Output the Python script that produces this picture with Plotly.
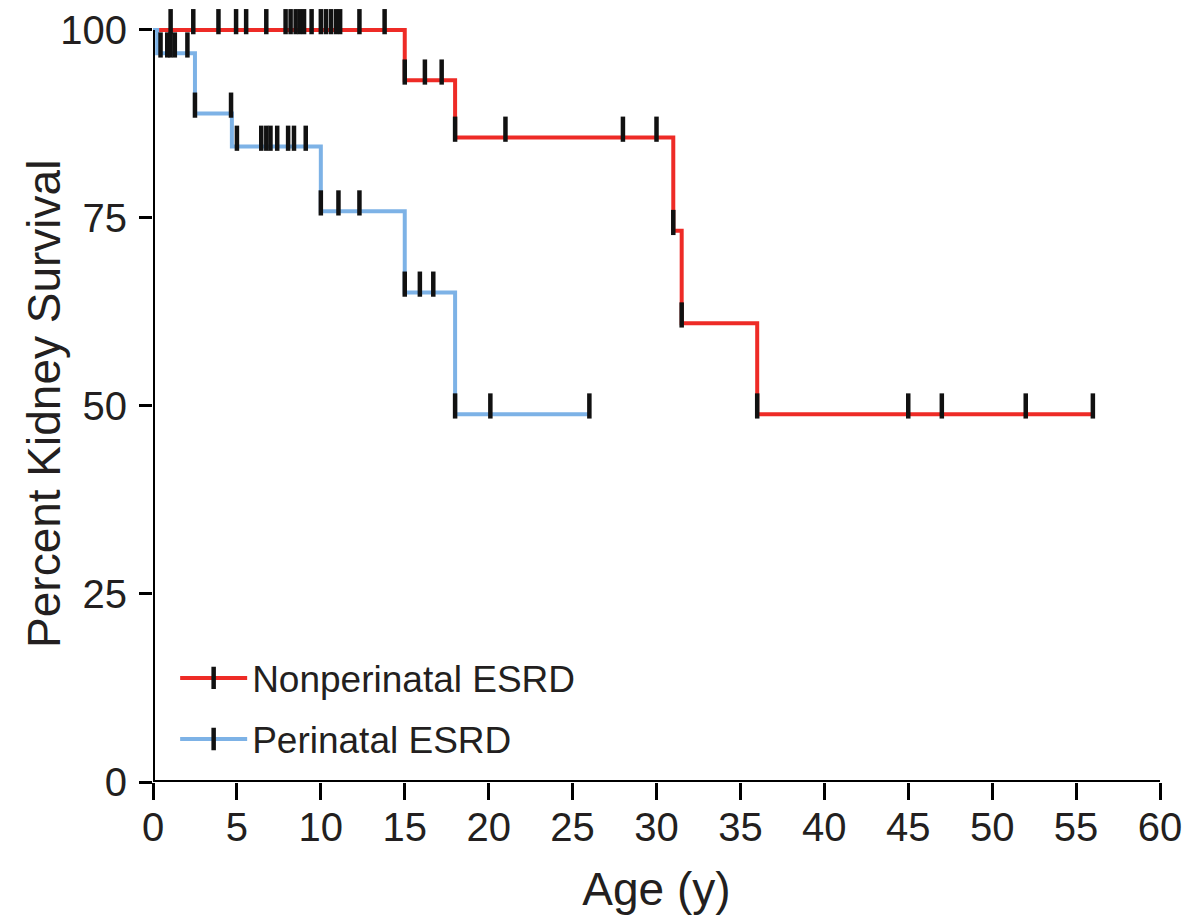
import plotly.graph_objects as go

# ---- data ----
nonperi_event_t = [0, 15, 18, 31, 31.5, 36]
nonperi_surv = [100, 93.3, 85.7, 73.3, 61.0, 48.9]
nonperi_end = 56
nonperi_censor = [1.05, 2.4, 3.9, 4.95, 5.55, 6.75, 7.9, 8.2, 8.5, 8.75, 9.0, 9.45,
                  10.0, 10.3, 10.6, 10.9, 11.15, 12.3, 13.8, 15.0, 16.2, 17.2,
                  18.0, 21.0, 28.0, 30.0, 31.0, 31.5, 36.0, 45.0, 47.0, 52.0, 56.0]

peri_event_t = [0, 0.25, 2.5, 4.7, 10, 15, 18]
peri_surv = [100, 96.9, 88.9, 84.5, 75.9, 65.1, 48.9]
peri_end = 26
peri_censor = [0.45, 0.85, 1.05, 1.3, 2.05, 2.5, 4.65, 5.0, 6.45, 6.75, 7.0, 7.4,
               8.05, 8.4, 9.1, 10.0, 11.05, 12.3, 15.0, 15.9, 16.7, 18.0, 20.1, 26.0]

x_ticks = list(range(0, 61, 5))
y_ticks = [0, 25, 50, 75, 100]

x_title = "Age (y)"
y_title = "Percent Kidney Survival"

RED = "#EE2B26"
BLUE = "#7DB2E6"
TICK_LIFT = 1.1  # censor ticks sit above the curve (in % units)
FONT = "Liberation Sans, Arial, sans-serif"
TXT = "#231F20"


def step_value(t, times, surv):
    v = surv[0]
    for ti, si in zip(times, surv):
        if ti <= t + 1e-9:
            v = si
    return v


def censor_xy(cens, times, surv):
    xs, ys = [], []
    for c in cens:
        xs += [c, None]
        ys += [step_value(c, times, surv) + TICK_LIFT, None]
    return xs, ys


fig = go.Figure()

groups = [
    ("Nonperinatal ESRD", nonperi_event_t, nonperi_surv, nonperi_end, nonperi_censor, RED),
    ("Perinatal ESRD", peri_event_t, peri_surv, peri_end, peri_censor, BLUE),
]

for name, times, surv, end, cens, col in groups:
    fig.add_trace(go.Scatter(
        x=times + [end], y=surv + [surv[-1]], mode="lines",
        line=dict(color=col, width=4, shape="hv"),
        showlegend=False, hoverinfo="skip", cliponaxis=False,
    ))

for name, times, surv, end, cens, col in groups:
    cx, cy = censor_xy(cens, times, surv)
    fig.add_trace(go.Scatter(
        x=cx, y=cy, mode="lines+markers", name=name, legendgroup=name,
        connectgaps=False,
        line=dict(color=col, width=4),
        marker=dict(symbol="line-ns", size=18, color="#111111",
                    line=dict(color="#111111", width=4.5)),
        cliponaxis=False,
    ))

fig.add_shape(type="line", x0=0, x1=0, y0=0, y1=100, xref="x", yref="y",
              line=dict(color="black", width=4))
fig.add_shape(type="line", x0=0, x1=60, y0=0, y1=0, xref="x", yref="y",
              line=dict(color="black", width=4))

fig.add_annotation(text=y_title, xref="paper", yref="paper", x=-0.109, y=0.49,
                   xanchor="center", yanchor="middle", textangle=-90, showarrow=False,
                   font=dict(size=46, family=FONT, color=TXT))

fig.update_layout(
    width=1190, height=911,
    margin=dict(l=145, r=38, t=0, b=137),
    plot_bgcolor="white", paper_bgcolor="white",
    font=dict(family=FONT, color=TXT),
    showlegend=True,
    legend=dict(x=0.022, y=0.1744, xanchor="left", yanchor="top",
                font=dict(size=37, family=FONT, color=TXT),
                itemwidth=67,
                tracegroupgap=10, bgcolor="rgba(0,0,0,0)"),
    xaxis=dict(range=[0, 60], tickvals=x_ticks, ticks="outside", ticklen=17,
               tickwidth=3, tickcolor="black", showgrid=False, zeroline=False,
               showline=False, tickfont=dict(size=40, family=FONT, color=TXT),
               ticklabelstandoff=-7, ticklabeloverflow="allow",
               title=dict(text=x_title, font=dict(size=46, family=FONT, color=TXT),
                          standoff=24)),
    yaxis=dict(range=[0, 102.65], tickvals=y_ticks, ticks="outside", ticklen=13,
               tickwidth=3, tickcolor="black", showgrid=False, zeroline=False,
               showline=False, tickfont=dict(size=40, family=FONT, color=TXT),
               ticklabelstandoff=4, ticklabeloverflow="allow"),
)

fig.write_html("out.html")
